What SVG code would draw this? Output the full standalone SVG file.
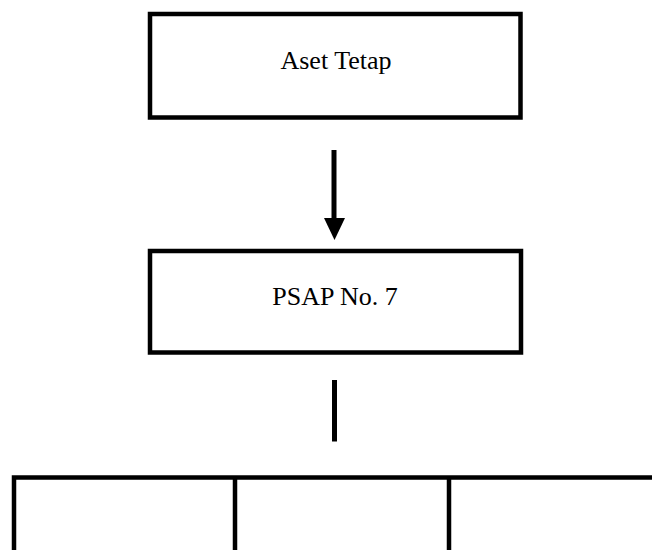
<svg xmlns="http://www.w3.org/2000/svg" width="652" height="550" viewBox="0 0 652 550">
  <style>
    .box { fill: #ffffff; stroke: #000000; stroke-width: 4.5; }
    .lbl { font-family: 'Liberation Serif', 'Times New Roman', Times, serif; font-size: 26px; fill: #000000; text-anchor: middle; }
    .ln { stroke: #000000; stroke-width: 4.5; fill: none; }
  </style>
  <rect x="0" y="0" width="652" height="550" fill="#ffffff"/>
  <g id="node-aset-tetap">
    <rect class="box" x="150" y="14" width="370.5" height="103.5"/>
    <text class="lbl" x="336" y="68.5">Aset Tetap</text>
  </g>
  <g id="node-psap">
    <rect class="box" x="150" y="251" width="371" height="101.5"/>
    <text class="lbl" x="335" y="304.5">PSAP No. 7</text>
  </g>
  <g id="node-cells">
    <path class="ln" d="M14,552 L14,477.5 L656,477.5 M235,477.5 L235,552 M449,477.5 L449,552"/>
  </g>
  <g id="connectors">
    <line x1="334" y1="150" x2="334" y2="219" stroke="#000" stroke-width="5"/>
    <path d="M324,218 L345,218 L334.5,240 Z" fill="#000"/>
    <line x1="334.5" y1="380" x2="334.5" y2="441.5" stroke="#000" stroke-width="5"/>
  </g>
</svg>
